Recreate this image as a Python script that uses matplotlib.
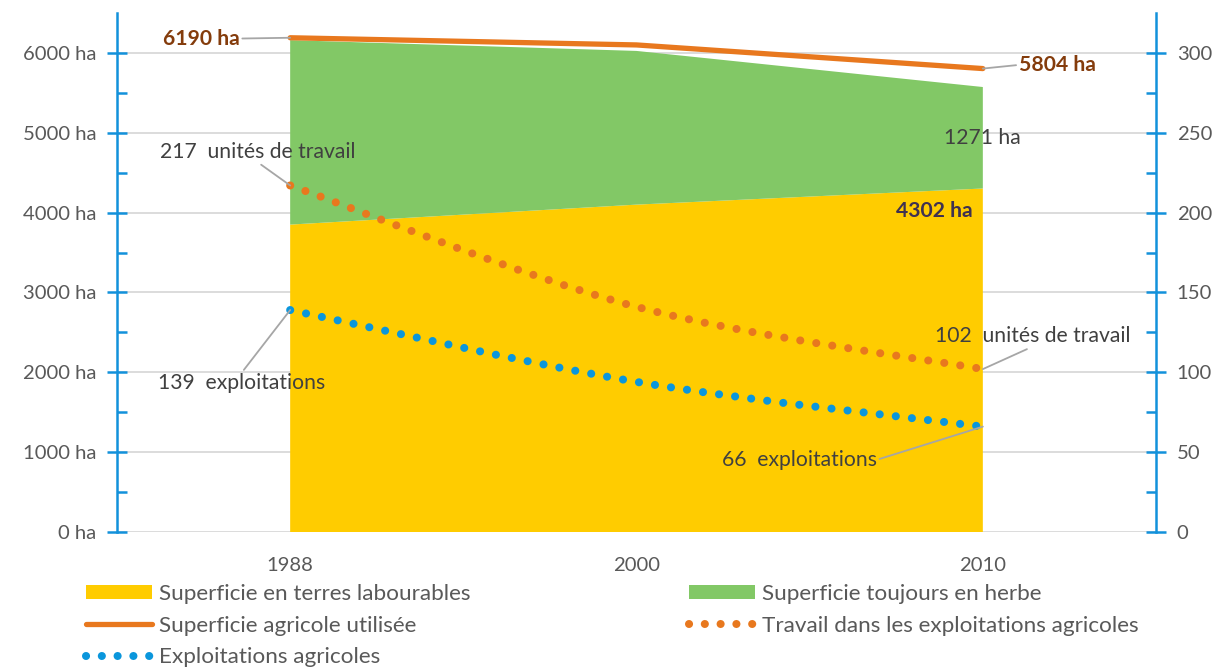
import matplotlib
matplotlib.use("Agg")
import matplotlib.pyplot as plt
from matplotlib.path import Path
from matplotlib.patches import PathPatch, Patch
from matplotlib.lines import Line2D
import numpy as np

years = ["1988", "2000", "2010"]
terres_labourables = [3850, 4100, 4302]
toujours_en_herbe = [2310, 1925, 1271]
sau = [6190, 6100, 5804]
travail = [217, 141, 102]
exploitations = [139, 94, 66]

left_ticks = [0, 1000, 2000, 3000, 4000, 5000, 6000]
left_labels = [f"{v} ha" for v in left_ticks]
right_ticks = [0, 50, 100, 150, 200, 250, 300]

YELLOW = "#FFCC00"
GREEN = "#82C866"
ORANGE = "#E8781E"
BLUE = "#0A96DC"
AXBLUE = "#1291DB"
GRID = "#D9D9D9"
TXT = "#595959"
DARK = "#404040"

plt.rcParams['font.family'] = ['Lato', 'DejaVu Sans']

fig = plt.figure(figsize=(12.24, 6.67), dpi=100)
ax = fig.add_axes([117/1224, 1-532/667, (1156-117)/1224, (532-13)/667])
ax2 = ax.twinx()

x = np.arange(len(years))
ax.set_xlim(-0.5, 2.5)
ax.set_ylim(0, 6500)
ax2.set_ylim(0, 325)

for v in left_ticks:
    ax.axhline(v, color=GRID, lw=1.3, zorder=0)

ax.stackplot(x, terres_labourables, toujours_en_herbe, colors=[YELLOW, GREEN],
             zorder=1, lw=0)
ax.plot(x, sau, color=ORANGE, lw=3.8, solid_capstyle='round', zorder=3)


def smooth_path(xs, ys):
    pts = np.column_stack([xs, ys]).astype(float)
    n = len(pts)
    verts = [pts[0]]
    codes = [Path.MOVETO]
    for i in range(n - 1):
        p0 = pts[max(i - 1, 0)]
        p1 = pts[i]
        p2 = pts[i + 1]
        p3 = pts[min(i + 2, n - 1)]
        c1 = p1 + (p2 - p0) / 6.0
        c2 = p2 - (p3 - p1) / 6.0
        verts += [c1, c2, p2]
        codes += [Path.CURVE4] * 3
    return Path(verts, codes)


dot_style = (0, (0.01, 2.0))
for series, col in [(travail, ORANGE), (exploitations, BLUE)]:
    patch = PathPatch(smooth_path(x, series), fill=False, edgecolor=col, lw=5.8,
                      linestyle=dot_style, capstyle='round', zorder=4)
    ax2.add_patch(patch)

# axes styling
for a in (ax, ax2):
    for s in ['top', 'bottom']:
        a.spines[s].set_visible(False)
ax.spines['right'].set_visible(False)
ax2.spines['left'].set_visible(False)
ax.spines['left'].set_color(AXBLUE)
ax.spines['left'].set_linewidth(1.8)
ax2.spines['right'].set_color(AXBLUE)
ax2.spines['right'].set_linewidth(1.8)

TS = 14.6
ax.set_yticks(left_ticks)
ax.set_yticklabels(left_labels)
ax.set_yticks(np.arange(500, 6500, 1000), minor=True)
ax2.set_yticks(right_ticks)
ax2.set_yticks(np.arange(25, 325, 50), minor=True)
ax.tick_params(axis='y', which='major', direction='inout', length=14, width=1.8,
               color=AXBLUE, labelcolor=TXT, labelsize=TS, pad=8)
ax.tick_params(axis='y', which='minor', direction='in', length=7, width=1.8, color=AXBLUE)
ax2.tick_params(axis='y', which='major', direction='inout', length=14, width=1.8,
                color=AXBLUE, labelcolor=TXT, labelsize=TS, pad=8)
ax2.tick_params(axis='y', which='minor', direction='in', length=7, width=1.8, color=AXBLUE)
ax.set_xticks(x)
ax.set_xticklabels(years)
ax.tick_params(axis='x', length=0, labelcolor=TXT, labelsize=TS, pad=18)

lead = dict(arrowstyle='-', color='#A6A6A6', lw=1.3, shrinkA=0, shrinkB=0)
AS = 15.2

ax.annotate(f"{sau[0]} ha", xy=(0, sau[0]), xytext=(-0.257, 6180), ha='center', va='center',
            fontsize=AS, fontweight='bold', color='#843C0C', zorder=6,
            arrowprops=dict(lead, relpos=(1, 0.5)))
ax.annotate(f"{sau[2]} ha", xy=(2, sau[2]), xytext=(2.215, 5850), ha='center', va='center',
            fontsize=AS, fontweight='bold', color='#843C0C', zorder=6,
            arrowprops=dict(lead, relpos=(0, 0.5)))
ax.text(2.0, 4930, f"{toujours_en_herbe[2]} ha", ha='center', va='center', fontsize=AS,
        color=DARK, zorder=6)
ax.text(1.97, 4015, f"{terres_labourables[2]} ha", ha='right', va='center', fontsize=AS,
        fontweight='bold', color='#3F3151', zorder=6)

ax2.annotate(f"{travail[0]}  unités de travail", xy=(0, travail[0]), xytext=(-0.095, 238),
             ha='center', va='center', fontsize=AS, color=DARK, zorder=6,
             arrowprops=dict(lead, relpos=(0.5, 0)))
ax2.annotate(f"{exploitations[0]}  exploitations", xy=(0, exploitations[0]),
             xytext=(-0.14, 93.5), ha='center', va='center', fontsize=AS, color=DARK, zorder=6,
             arrowprops=dict(lead, relpos=(0.5, 1)))
ax2.annotate(f"{travail[2]}  unités de travail", xy=(2, travail[2]), xytext=(2.145, 122.5),
             ha='center', va='center', fontsize=AS, color=DARK, zorder=6,
             arrowprops=dict(lead, relpos=(0.5, 0)))
ax2.annotate(f"{exploitations[2]}  exploitations", xy=(2, exploitations[2]),
             xytext=(1.47, 45.2), ha='center', va='center', fontsize=AS, color=DARK, zorder=6,
             arrowprops=dict(lead, relpos=(1, 0.5)))

# legends
h_lab = Patch(facecolor=YELLOW, edgecolor='none')
h_herbe = Patch(facecolor=GREEN, edgecolor='none')
h_sau = Line2D([], [], color=ORANGE, lw=3.8, solid_capstyle='round')
h_trav = Line2D([], [], color=ORANGE, lw=5.8, linestyle=(0, (0.01, 1.95)), dash_capstyle='round')
h_expl = Line2D([], [], color=BLUE, lw=5.8, linestyle=(0, (0.01, 1.95)), dash_capstyle='round')

LS = 16.2
common = dict(frameon=False, fontsize=LS, labelcolor=TXT, handlelength=2.95,
              handleheight=0.62, handletextpad=0.28, labelspacing=0.52,
              borderpad=0, borderaxespad=0, loc='upper left')
fig.legend([h_lab, h_sau, h_expl],
           ["Superficie en terres labourables", "Superficie agricole utilisée",
            "Exploitations agricoles"],
           bbox_to_anchor=(86/1224, 1-584/667), **common)
fig.legend([h_herbe, h_trav],
           ["Superficie toujours en herbe", "Travail dans les exploitations agricoles"],
           bbox_to_anchor=(689/1224, 1-584/667), **common)

fig.savefig("out.png", dpi=100)
